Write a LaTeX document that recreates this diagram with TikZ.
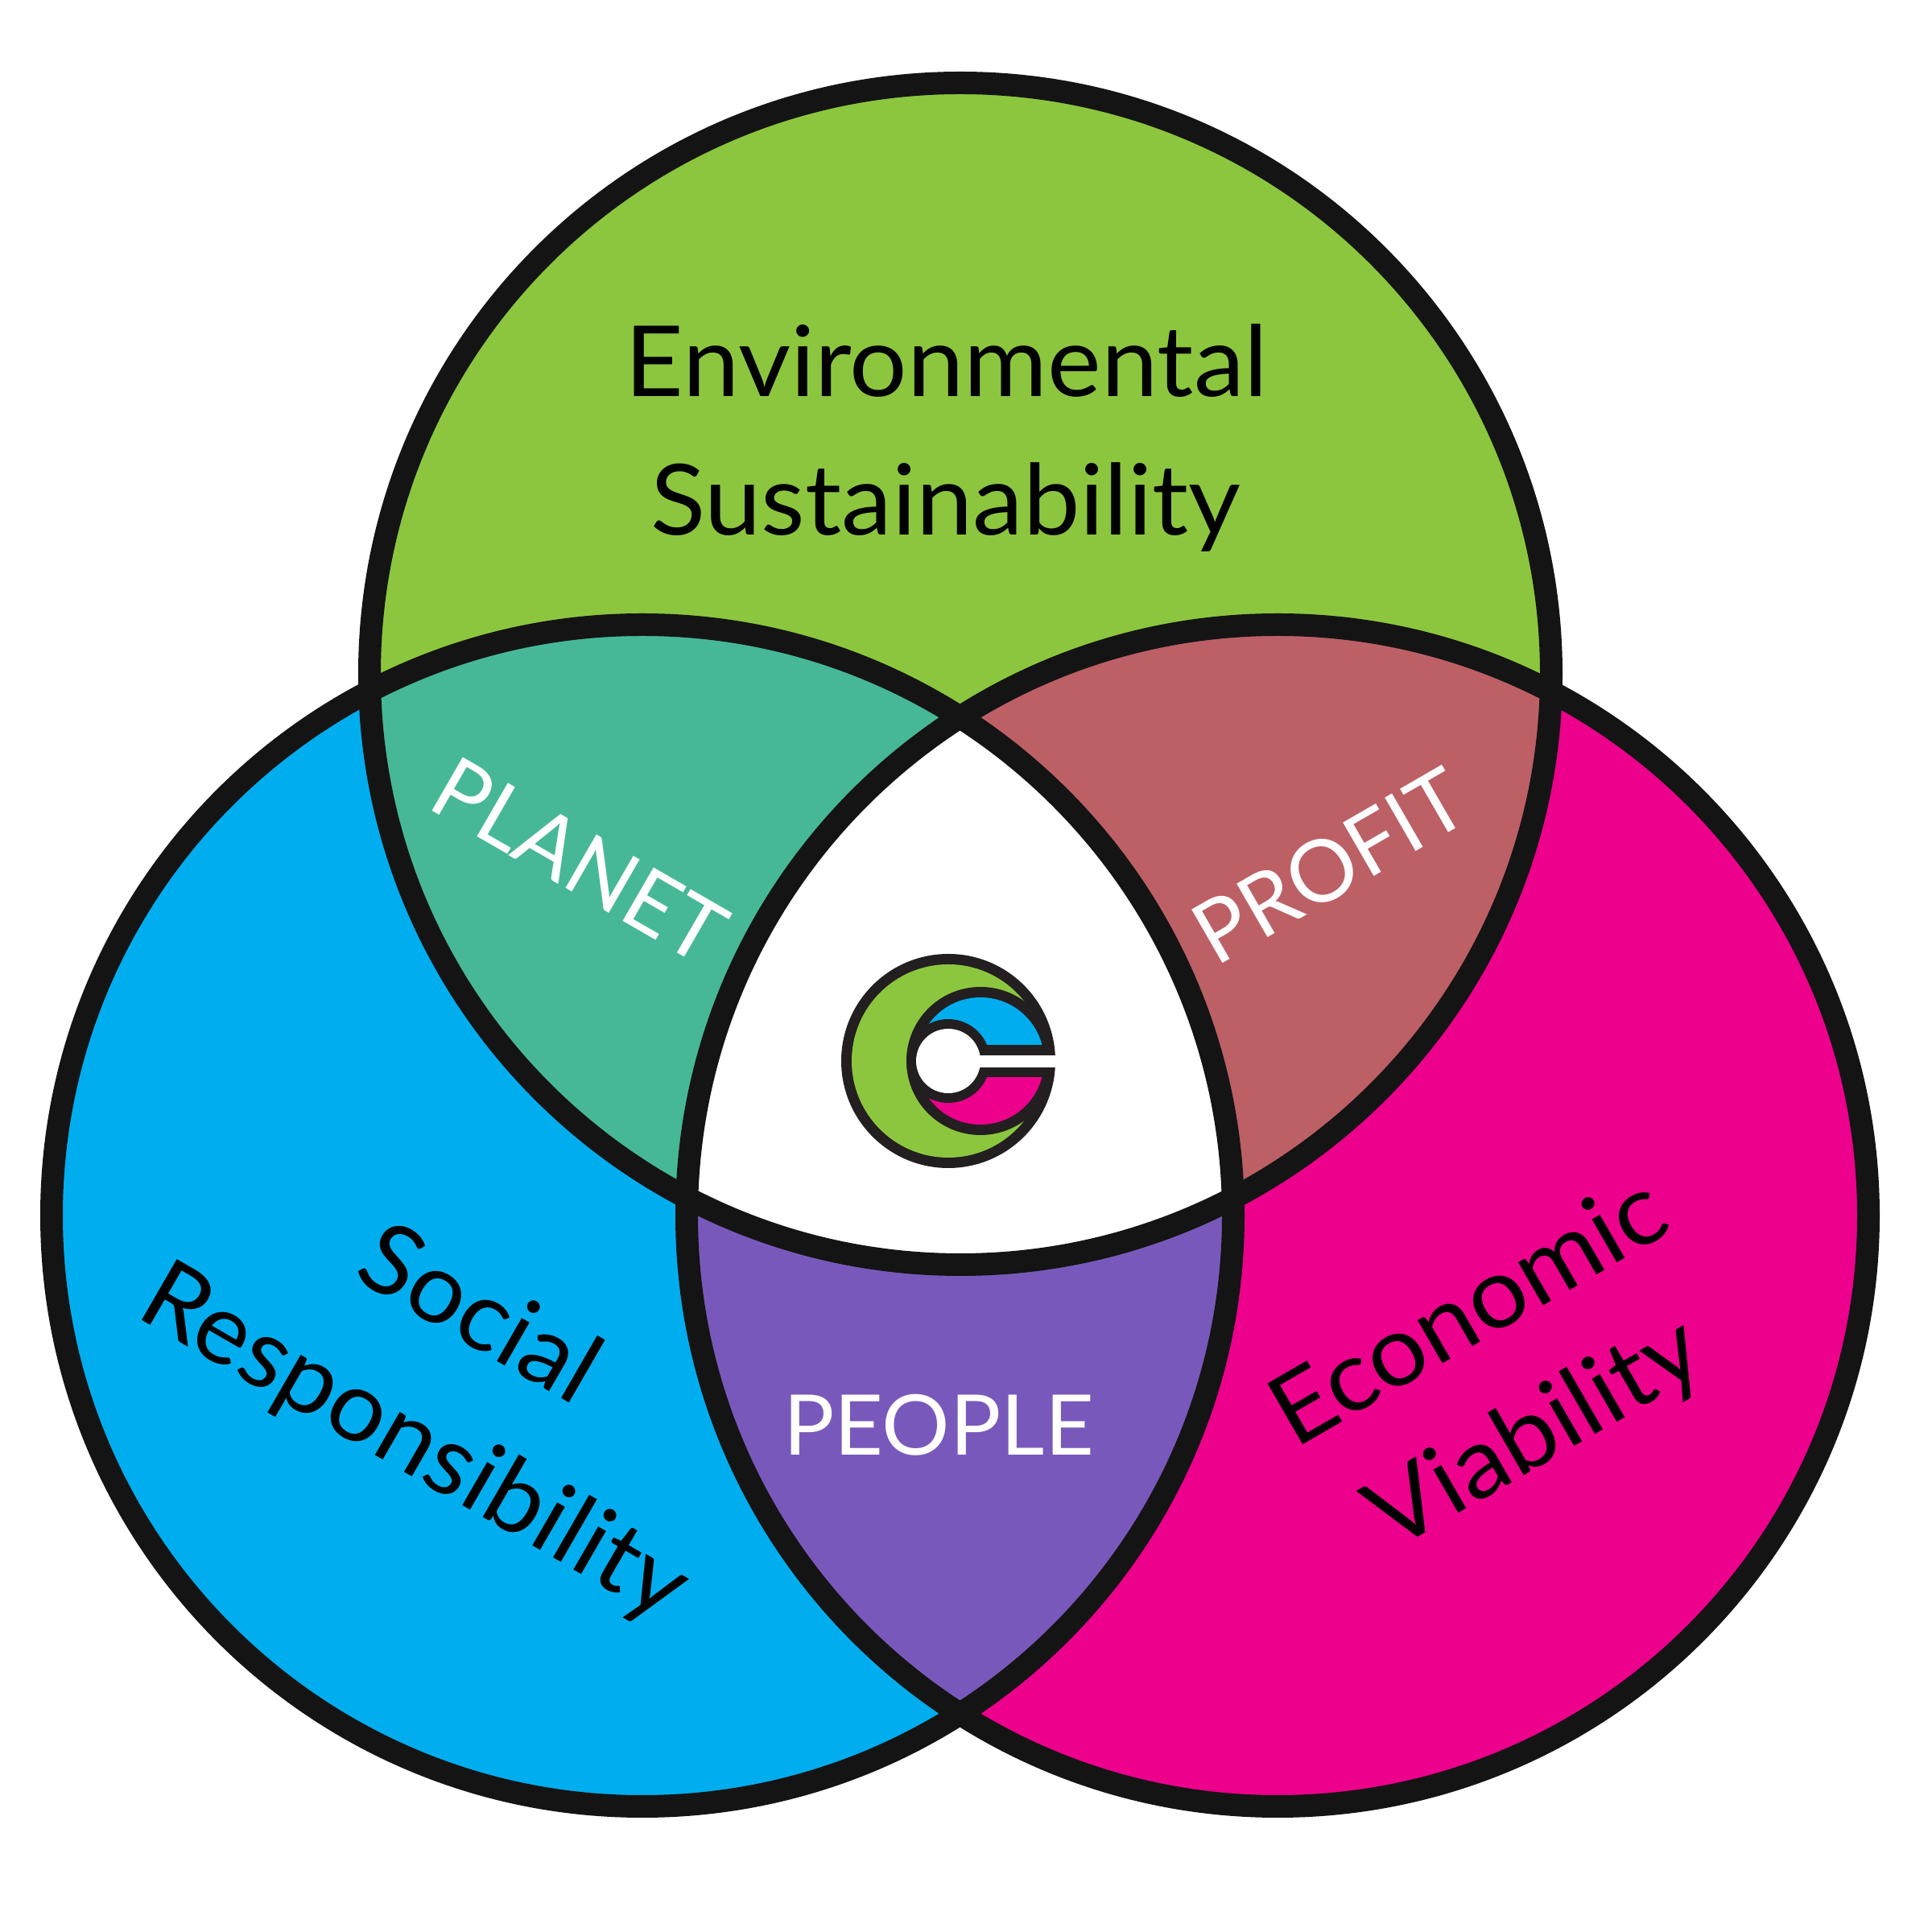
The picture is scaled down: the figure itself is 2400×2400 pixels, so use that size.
\documentclass[tikz,border=0pt]{standalone}
\usepackage{fontspec}
\setmainfont{Lato}
\definecolor{cgreen}{RGB}{140,198,63}
\definecolor{cblue}{RGB}{0,174,239}
\definecolor{cpink}{RGB}{236,0,140}
\definecolor{cteal}{RGB}{71,184,151}
\definecolor{crose}{RGB}{188,96,102}
\definecolor{cpurple}{RGB}{120,89,187}
\definecolor{cink}{RGB}{20,20,20}
\definecolor{clogo}{RGB}{35,31,32}
\newcommand{\px}[1]{\fontsize{#1}{#1}\selectfont}
\tikzset{
  ring/.style={draw=cink,line width=14pt},
  lbl/.style={inner sep=0pt,transform shape,anchor=base,text=black},
  wlbl/.style={lbl,text=white}
}
\begin{document}
\begin{tikzpicture}[x=.5pt,y=.5pt]
\useasboundingbox (0,0) rectangle (2400,2400);
\fill[white] (0,0) rectangle (2400,2400);
\def\R{734}
\coordinate (T) at (1193,1563);
\coordinate (L) at (798,890);
\coordinate (E) at (1587,890);
\fill[cgreen] (T) circle (\R);
\fill[cblue] (L) circle (\R);
\fill[cpink] (E) circle (\R);
\begin{scope}\clip (T) circle (\R); \fill[cteal] (L) circle (\R); \fill[crose] (E) circle (\R);\end{scope}
\begin{scope}\clip (L) circle (\R); \fill[cpurple] (E) circle (\R);
 \clip (T) circle (\R); \fill[white] (E) circle (\R);\end{scope}
\draw[ring] (T) circle (\R);
\draw[ring] (L) circle (\R);
\draw[ring] (E) circle (\R);
% logo
\coordinate (G) at (1178,1082);
\coordinate (H) at (1218,1082);
\fill[clogo] (G) circle (133);
\fill[cgreen] (G) circle (120);
\fill[clogo] (H) circle (92);
\begin{scope}\clip (1100,1102) rectangle (1320,1200); \fill[cblue] (H) circle (79);\end{scope}
\begin{scope}\clip (1100,961) rectangle (1320,1061); \fill[cpink] (H) circle (79);\end{scope}
\fill[clogo] (G) circle (52);
\fill[white] (G) circle (40);
\fill[white] (1217,1074) rectangle (1315,1089);
% text
\node[lbl,xscale=1.034] (env) at (1176,1907) {\px{61}Environmental};
\node[lbl,xscale=1.032] (sus) at (1175,1735) {\px{61}Sustainability};
\node[wlbl,xscale=1.015] (peo) at (1166,592) {\px{52}PEOPLE};
\node[wlbl,rotate=-30] (pla) at (701,1298) {\px{53.5}PLANET};
\node[wlbl,rotate=30] (pro) at (1671,1291) {\px{53.5}PROFIT};
\node[lbl,rotate=-30,xscale=1.03] (soc) at (576,733) {\px{61}Social};
\node[lbl,rotate=-30,xscale=1.03] (res) at (496,575) {\px{61}Responsibility};
\node[lbl,rotate=30,xscale=1.05] (eco) at (1844,736) {\px{61}Economic};
\node[lbl,rotate=30,xscale=1.05] (via) at (1926,586) {\px{61}Viability};
\end{tikzpicture}
\end{document}
